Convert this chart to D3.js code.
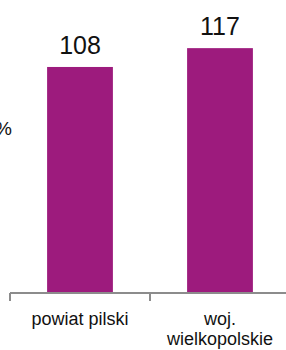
<!DOCTYPE html>
<html>
<head>
<meta charset="utf-8">
<script src="https://cdn.jsdelivr.net/npm/d3@7"></script>
<style>
    body { margin: 0; background: #fff; }
    text { font-family: "Liberation Sans", Arial, sans-serif; }
</style>
</head>
<body>
<div id="chart"></div>
<script>
var categories = [["powiat pilski"], ["woj.", "wielkopolskie"]];
var values = [108, 117];
var valueLabels = ["108", "117"];

function chart() {
    var width = 286;
    var height = 350;
    var baseY = 293;

    var canvas = d3.select("#chart")
                    .append("svg")
                    .attr("width", width)
                    .attr("height", height);

    var keys = categories.map(function(d) { return d.join(" "); });

    // band scale, ticks sit on the band boundaries
    var xScale = d3.scaleBand()
                    .domain(keys)
                    .range([10, 290])
                    .paddingInner(0.53)
                    .paddingOuter(0.265);

    var yScale = d3.scaleLinear()
                    .domain([0, 140])
                    .range([baseY, 0]);

    canvas.selectAll("rect")
        .data(values)
        .enter()
        .append("rect")
        .attr("x", function(d, i) { return xScale(keys[i]); })
        .attr("y", function(d) { return yScale(d); })
        .attr("width", xScale.bandwidth())
        .attr("height", function(d) { return yScale(0) - yScale(d); })
        .attr("fill", "#9d1b7d");

    // value labels
    canvas.selectAll(".val")
        .data(values)
        .enter()
        .append("text")
        .attr("class", "val")
        .attr("text-anchor", "middle")
        .attr("x", function(d, i) { return xScale(keys[i]) + xScale.bandwidth() / 2; })
        .attr("y", function(d) { return yScale(d) - 13; })
        .style("font-size", "25px")
        .attr("fill", "#111")
        .text(function(d, i) { return valueLabels[i]; });

    // x axis: line and boundary ticks
    var step = xScale.step();
    var bounds = keys.map(function(k) { return xScale(k) - step * xScale.paddingInner() / 2; });
    bounds.push(bounds[bounds.length - 1] + step);

    canvas.append("line")
        .attr("x1", bounds[0]).attr("x2", bounds[bounds.length - 1])
        .attr("y1", baseY).attr("y2", baseY)
        .attr("stroke", "#8c8c8c")
        .attr("stroke-width", 2);

    canvas.selectAll(".tick")
        .data(bounds)
        .enter()
        .append("line")
        .attr("class", "tick")
        .attr("x1", function(d) { return d; })
        .attr("x2", function(d) { return d; })
        .attr("y1", baseY)
        .attr("y2", baseY + 8)
        .attr("stroke", "#8c8c8c")
        .attr("stroke-width", 2);

    // category labels
    var labels = canvas.selectAll(".cat")
        .data(categories)
        .enter()
        .append("text")
        .attr("class", "cat")
        .attr("text-anchor", "middle")
        .attr("x", function(d, i) { return xScale(keys[i]) + xScale.bandwidth() / 2; })
        .attr("y", 325)
        .style("font-size", "18px")
        .attr("fill", "#111");

    labels.selectAll("tspan")
        .data(function(d) { return d; })
        .enter()
        .append("tspan")
        .attr("x", function() { return d3.select(this.parentNode).attr("x"); })
        .attr("dy", function(d, i) { return i === 0 ? 0 : 20; })
        .text(function(d) { return d; });

    // axis unit, cut at the left edge
    canvas.append("text")
        .attr("text-anchor", "end")
        .attr("x", 12)
        .attr("y", 135)
        .style("font-size", "19px")
        .attr("fill", "#111")
        .text("%");
}

window.onload = chart;
</script>
</body>
</html>
